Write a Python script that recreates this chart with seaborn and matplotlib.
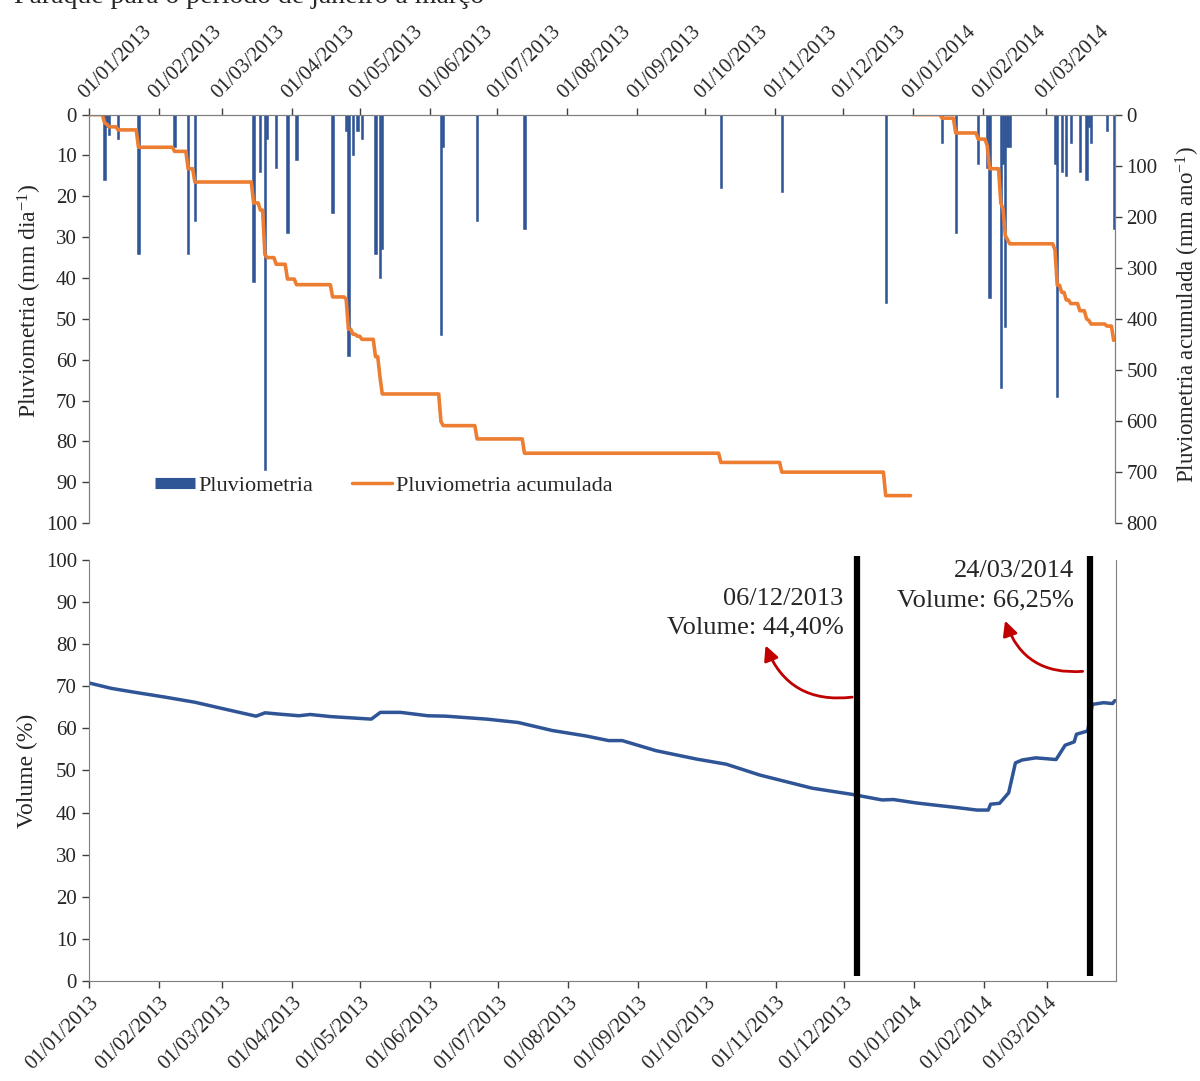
import numpy as np
import pandas as pd
import matplotlib
matplotlib.use("Agg")
import matplotlib.pyplot as plt
import matplotlib.dates as mdates
from matplotlib.lines import Line2D
from matplotlib.patches import FancyArrowPatch
import seaborn as sns

sns.set_style("ticks")
plt.rcParams['font.family'] = ['Liberation Serif', 'DejaVu Serif']
plt.rcParams['mathtext.fontset'] = 'custom'
plt.rcParams['mathtext.rm'] = 'Liberation Serif'
plt.rcParams['mathtext.it'] = 'Liberation Serif:italic'

BLUE = '#2F5597'
ORANGE = '#ED7D31'
RED = '#C00000'
GREY = '#7F7F7F'

# daily rainfall (mm/day), only rainy days
rain_dates = ['2013-01-08', '2013-01-09', '2013-01-10', '2013-01-14', '2013-01-23',
              '2013-02-08', '2013-02-14', '2013-02-17', '2013-03-15', '2013-03-18',
              '2013-03-20', '2013-03-21', '2013-03-25', '2013-03-30', '2013-04-03',
              '2013-04-19', '2013-04-25', '2013-04-26', '2013-04-28', '2013-04-30',
              '2013-05-02', '2013-05-08', '2013-05-10', '2013-05-11', '2013-06-06',
              '2013-06-07', '2013-06-22', '2013-07-13', '2013-10-08', '2013-11-04',
              '2013-12-20',
              '2014-01-14', '2014-01-20', '2014-01-30', '2014-02-03', '2014-02-04',
              '2014-02-09', '2014-02-10', '2014-02-11', '2014-02-12', '2014-02-13',
              '2014-03-05', '2014-03-06', '2014-03-08', '2014-03-10', '2014-03-12',
              '2014-03-16', '2014-03-19', '2014-03-20', '2014-03-21', '2014-03-28',
              '2014-03-31']
rain_mm = [16, 3, 5, 6, 34,
           8, 34, 26, 41, 14,
           87, 6, 13, 29, 11,
           24, 4, 59, 10, 4,
           6, 34, 40, 33, 54,
           8, 26, 28, 18, 19,
           46,
           7, 29, 12, 13, 45,
           67, 12, 52, 8, 8,
           12, 69, 14, 15, 7,
           14, 16, 3, 7, 4,
           28]

# reservoir volume (%)
vol_dates = ['2013-01-01', '2013-01-11', '2013-01-21', '2013-02-04', '2013-02-17',
             '2013-03-02', '2013-03-16', '2013-03-20', '2013-03-26', '2013-04-04',
             '2013-04-09', '2013-04-18', '2013-05-03', '2013-05-06', '2013-05-10',
             '2013-05-19', '2013-05-31', '2013-06-08', '2013-06-26', '2013-07-10',
             '2013-07-25', '2013-08-09', '2013-08-19', '2013-08-25', '2013-09-09',
             '2013-09-27', '2013-10-10', '2013-10-25', '2013-11-17', '2013-12-05',
             '2013-12-18', '2013-12-23', '2014-01-02', '2014-01-10', '2014-01-20',
             '2014-01-29', '2014-02-03', '2014-02-04', '2014-02-08', '2014-02-12',
             '2014-02-15', '2014-02-18', '2014-02-24', '2014-03-05', '2014-03-09',
             '2014-03-13', '2014-03-14', '2014-03-19', '2014-03-21', '2014-03-26',
             '2014-03-30', '2014-03-31']
vol_pct = [70.8, 69.5, 68.6, 67.4, 66.2,
           64.6, 62.9, 63.7, 63.4, 63.0,
           63.3, 62.8, 62.3, 62.2, 63.8,
           63.8, 63.0, 62.9, 62.2, 61.4,
           59.5, 58.2, 57.1, 57.1, 54.7,
           52.7, 51.5, 48.9, 45.8, 44.3,
           43.0, 43.1, 42.3, 41.8, 41.2,
           40.6, 40.6, 42.0, 42.2, 44.7,
           51.8, 52.5, 53.0, 52.6, 56.0,
           56.8, 58.6, 59.4, 65.7, 66.1,
           65.9, 66.6]

month_ticks = pd.date_range('2013-01-01', '2014-03-01', freq='MS')
mark_dates = ['2013-12-07', '2014-03-20']
mark_labels = ['06/12/2013\nVolume: 44,40%', '24/03/2014\nVolume: 66,25%']

rain = pd.Series(rain_mm, index=pd.to_datetime(rain_dates), dtype=float)
vol = pd.DataFrame({'data': pd.to_datetime(vol_dates), 'volume': vol_pct})

# accumulated rainfall, reset each year
acc = []
for start, end in [('2013-01-01', '2013-12-31'), ('2014-01-01', '2014-03-31')]:
    days = pd.date_range(start, end, freq='D')
    s = rain.reindex(days, fill_value=0).cumsum()
    acc.append(pd.DataFrame({'data': days, 'acum': s.values, 'ano': start[:4]}))
acc = pd.concat(acc, ignore_index=True)

xmin = pd.Timestamp('2013-01-01')
xmax = pd.Timestamp('2014-03-31 12:00')

fig = plt.figure(figsize=(12, 10.81), dpi=100)
ax1 = fig.add_axes([0.074, 0.516, 0.855, 0.378])
ax2 = fig.add_axes([0.074, 0.0925, 0.856, 0.3895])

# --- top panel: rainfall
ax1.bar(rain.index, rain.values, width=1.0, color=BLUE, edgecolor=BLUE,
        linewidth=0.4, align='center')
ax1.set_xlim(xmin, xmax)
ax1.set_ylim(100, 0)
ax1.set_yticks(range(0, 101, 10))
ax1.xaxis.tick_top()
ax1.set_xticks(month_ticks)
ax1.xaxis.set_major_formatter(mdates.DateFormatter('%d/%m/%Y'))
plt.setp(ax1.get_xticklabels(), rotation=45, ha='left', va='bottom',
         rotation_mode='anchor')
ax1.set_ylabel('Pluviometria (mm dia$^{-1}$)', fontsize=17)
ax1.yaxis.set_label_coords(-0.044, 0.545)
ax1.spines['bottom'].set_visible(False)

ax1r = ax1.twinx()
sns.lineplot(data=acc, x='data', y='acum', units='ano', estimator=None,
             color=ORANGE, lw=2.6, ax=ax1r, legend=False)
ax1r.set_xlim(xmin, xmax)
ax1r.set_ylim(800, 0)
ax1r.set_yticks(range(0, 801, 100))
ax1r.set_xlabel('')
ax1r.set_ylabel('Pluviometria acumulada (mm ano$^{-1}$)', fontsize=16.5)
ax1r.yaxis.set_label_coords(1.058, 0.51)
ax1r.spines['bottom'].set_visible(False)

for a in (ax1, ax1r):
    for sp in a.spines.values():
        sp.set_color(GREY)
    a.tick_params(labelsize=15, length=5, color='#404040', width=1)

handles = [Line2D([], [], color=BLUE, lw=8, solid_capstyle='butt'),
           Line2D([], [], color=ORANGE, lw=2.5)]
ax1r.legend(handles, ['Pluviometria', 'Pluviometria acumulada'], ncol=2,
            frameon=False, loc='lower left', bbox_to_anchor=(0.056, 0.045),
            fontsize=16, handlelength=1.8, handletextpad=0.15, columnspacing=1.75,
            borderaxespad=0)

# --- bottom panel: reservoir volume
sns.lineplot(data=vol, x='data', y='volume', color=BLUE, lw=2.5, ax=ax2)
ax2.set_xlim(xmin, xmax)
ax2.set_ylim(0, 100)
ax2.set_yticks(range(0, 101, 10))
ax2.set_xticks(month_ticks)
ax2.xaxis.set_major_formatter(mdates.DateFormatter('%d/%m/%Y'))
plt.setp(ax2.get_xticklabels(), rotation=45, ha='right', va='top',
         rotation_mode='anchor')
ax2.set_xlabel('')
ax2.set_ylabel('Volume (%)', fontsize=17)
ax2.yaxis.set_label_coords(-0.049, 0.5)
ax2.spines['top'].set_visible(False)
for sp in ax2.spines.values():
    sp.set_color(GREY)
ax2.tick_params(labelsize=15, length=5, color='#404040', width=1)

for d in mark_dates:
    ax2.vlines(pd.Timestamp(d), 1.2, 101, color='black', lw=4.5, clip_on=False)

ax2.text(pd.Timestamp('2013-12-01'), 87.3, mark_labels[0], ha='right', va='center',
         fontsize=19, multialignment='right', linespacing=1.4)
ax2.text(pd.Timestamp('2014-03-13'), 93.9, mark_labels[1], ha='right', va='center',
         fontsize=19, multialignment='right', linespacing=1.4)

arrows = [(('2013-12-06', 67.5), ('2013-10-27', 80.3)),
          (('2014-03-18', 73.6), ('2014-02-10', 86.2))]
for (d0, v0), (d1, v1) in arrows:
    p0 = (mdates.date2num(pd.Timestamp(d0)), v0)
    p1 = (mdates.date2num(pd.Timestamp(d1)), v1)
    ax2.add_patch(FancyArrowPatch(p0, p1, connectionstyle='arc3,rad=-0.4',
                                  arrowstyle='-|>', mutation_scale=22,
                                  color=RED, lw=2))

fig.text(0.012, 0.9975, 'Paraquê para o período de janeiro a março', fontsize=20,
         va='baseline', ha='left')

fig.savefig('out.png', dpi=100)
